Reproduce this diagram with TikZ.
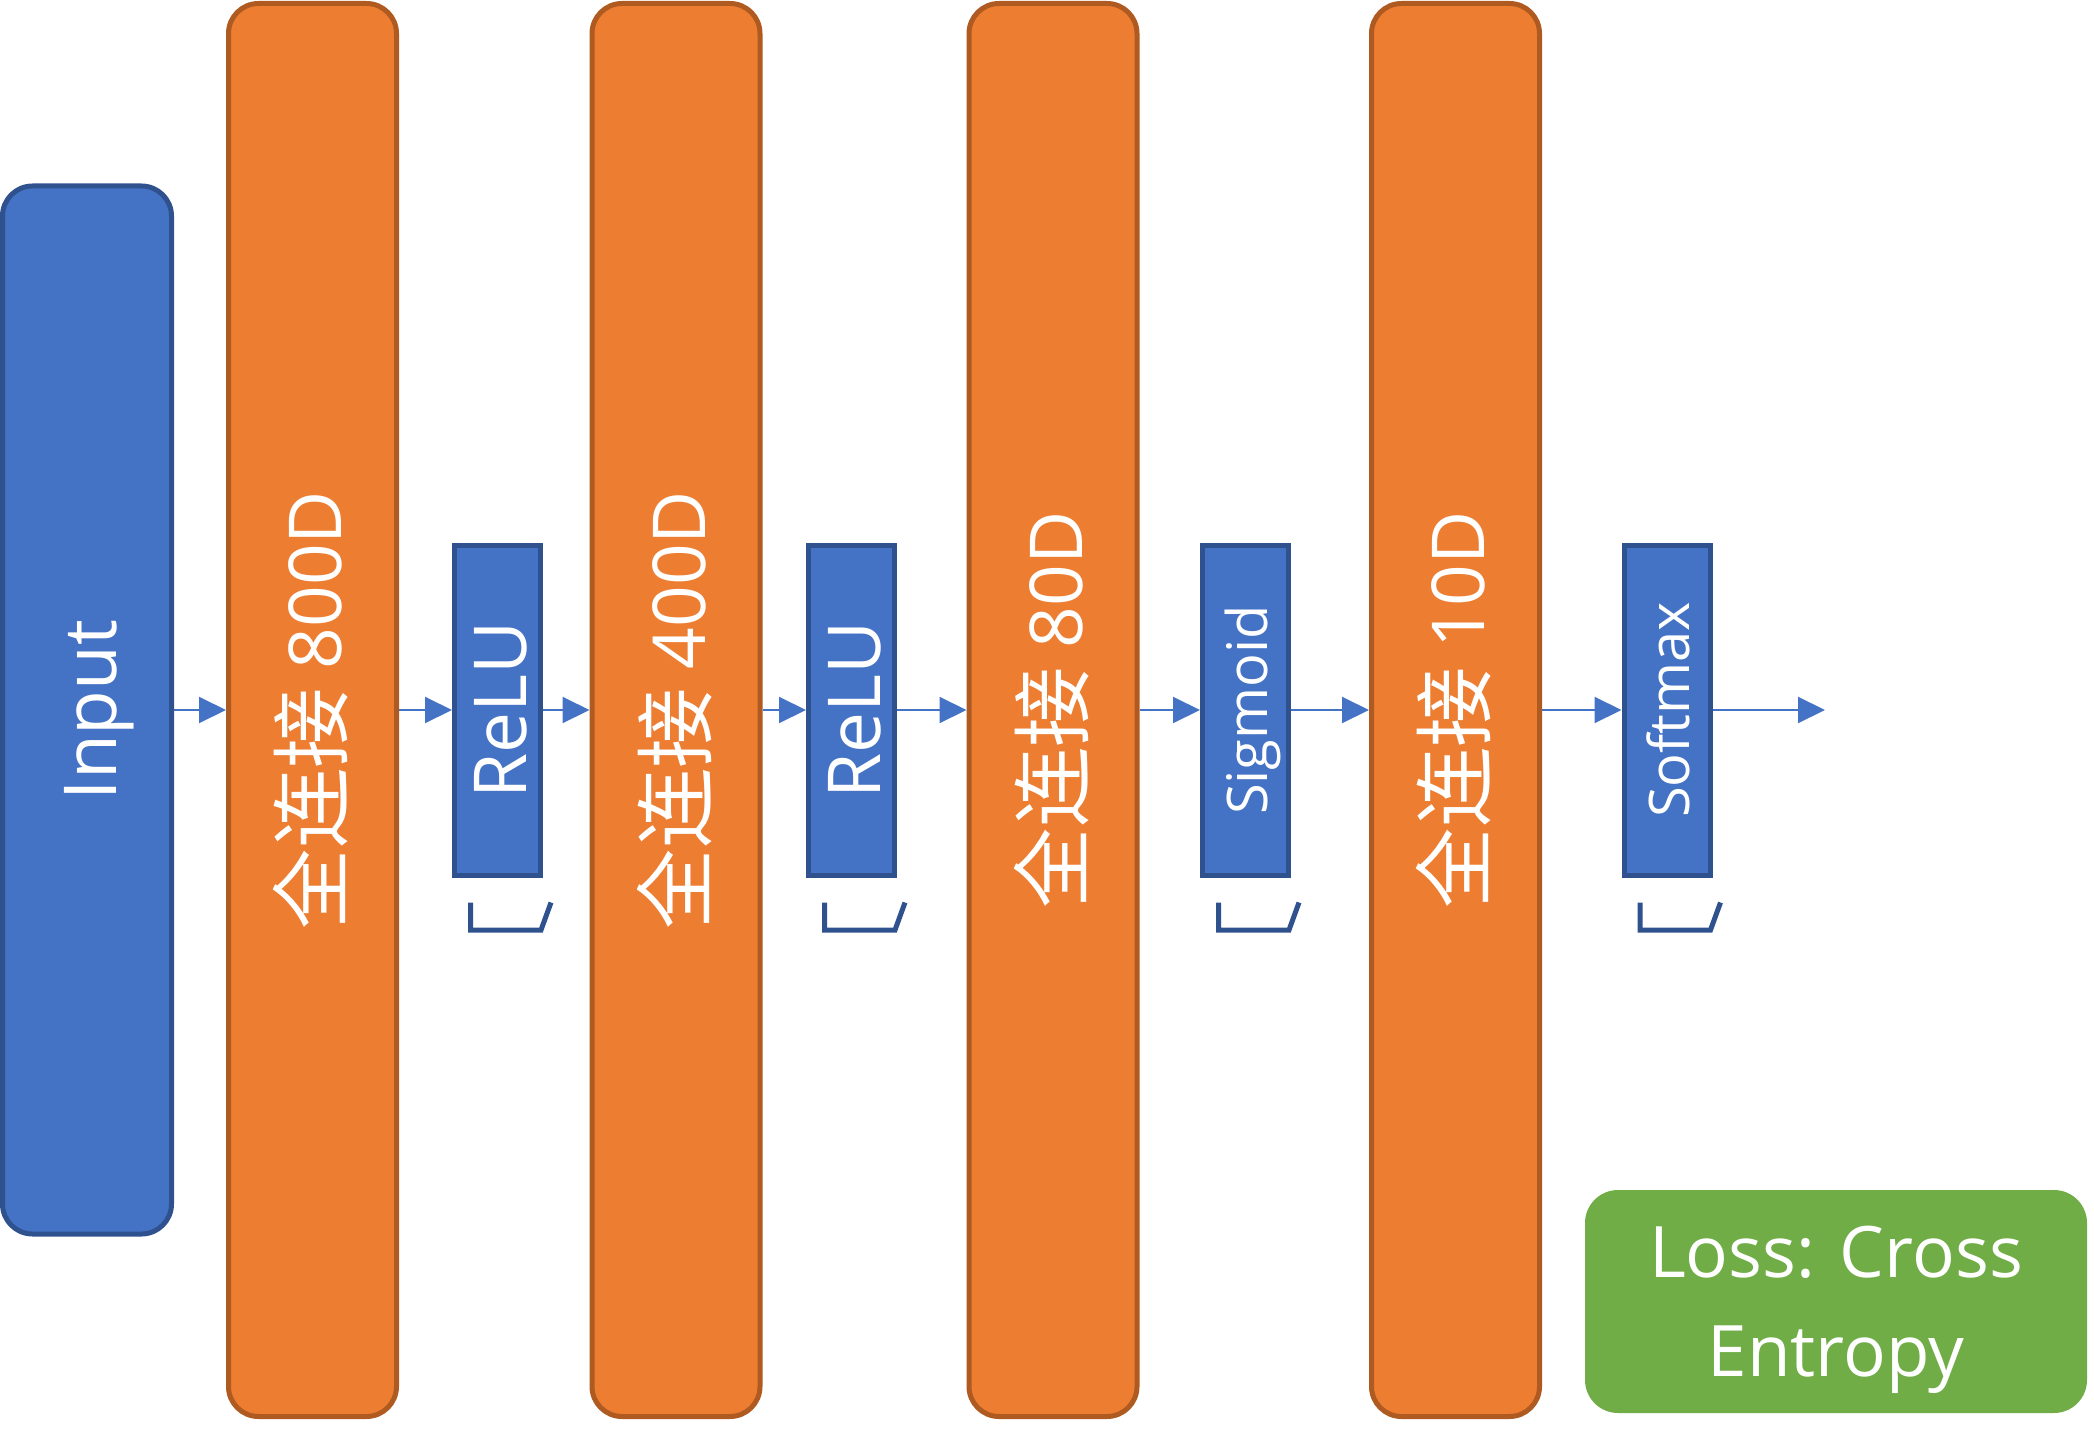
\documentclass[tikz,border=0pt]{standalone}
\usepackage{fontspec}
\usepackage{graphicx}
\setmainfont{Open Sans}
\newfontfamily\cjk{Noto Sans CJK SC}[Scale=1.1]
\usetikzlibrary{arrows.meta}

\definecolor{fcorange}{HTML}{ED7D31}
\definecolor{fcedge}{HTML}{AE5A21}
\definecolor{actblue}{HTML}{4472C4}
\definecolor{actedge}{HTML}{2F528F}
\definecolor{lossgreen}{HTML}{70AD47}

\newcommand{\vtext}[1]{\rotatebox{90}{\raisebox{0pt}[0.8em][0pt]{#1}}}
\newcommand{\bigfont}{\fontsize{73}{98}\selectfont}
\newcommand{\lossfont}{\fontsize{71}{99}\selectfont}
\newcommand{\actfont}{\fontsize{56}{68}\selectfont}

\begin{document}
\begin{tikzpicture}[x=1pt, y=-1pt,
  layer/.style={draw=fcedge, fill=fcorange, line width=5pt, rounded corners=30pt,
    minimum width=168pt, minimum height=1413pt, inner sep=0pt, text=white, font=\bigfont},
  inbox/.style={draw=actedge, fill=actblue, line width=5pt, rounded corners=30pt,
    minimum width=169pt, minimum height=1048pt, inner sep=0pt, text=white, font=\bigfont},
  actbox/.style={draw=actedge, fill=actblue, line width=5pt,
    minimum width=86pt, minimum height=330pt, inner sep=0pt, text=white, font=\bigfont},
  lossbox/.style={fill=lossgreen, rounded corners=33pt, minimum width=502pt,
    minimum height=223pt, align=center, text depth=0pt, text=white, font=\lossfont},
  flow/.style={-{Triangle[length=27pt, width=26pt]}, line width=2pt, draw=actblue},
  bracket/.style={draw=actedge, line width=5pt}]
  \useasboundingbox (0,0) rectangle (2094,1450);
  % Input and fully connected layers
  \node[inbox] (inp) at (87,710) {\vtext{Input}};
  \node[layer] (fc1) at (312.5,710) {\vtext{{\cjk 全连接} 800D}};
  \node[layer] (fc2) at (676,710) {\vtext{{\cjk 全连接} 400D}};
  \node[layer] (fc3) at (1053,710) {\vtext{{\cjk 全连接} 80D}};
  \node[layer] (fc4) at (1455.5,710) {\vtext{{\cjk 全连接} 10D}};
  % Activations
  \node[actbox] (relu1) at (497.5,710) {\vtext{ReLU}};
  \node[actbox] (relu2) at (851.5,710) {\vtext{ReLU}};
  \node[actbox, font=\actfont] (sig) at (1245.5,710) {\vtext{Sigmoid}};
  \node[actbox, font=\actfont] (soft) at (1667,710) {\vtext{Softmax}};
  \coordinate (out) at (1825,710);
  % Loss
  \node[lossbox] (loss) at (1836,1301.5) {Loss: Cross\\Entropy};
  % Connections
  \foreach \a/\b in {inp/fc1, fc1/relu1, relu1/fc2, fc2/relu2, relu2/fc3,
                     fc3/sig, sig/fc4, fc4/soft, soft/out}
    \draw[flow] (\a) -- (\b);
  % Brackets under the activations
  \foreach \n in {relu1, relu2, sig, soft}
    \draw[bracket] ([shift={(18.5,25)}]\n.south west) -- ++(0,27.5) -- ++(70.5,0) -- ++(10,-27.5);
\end{tikzpicture}
\end{document}
